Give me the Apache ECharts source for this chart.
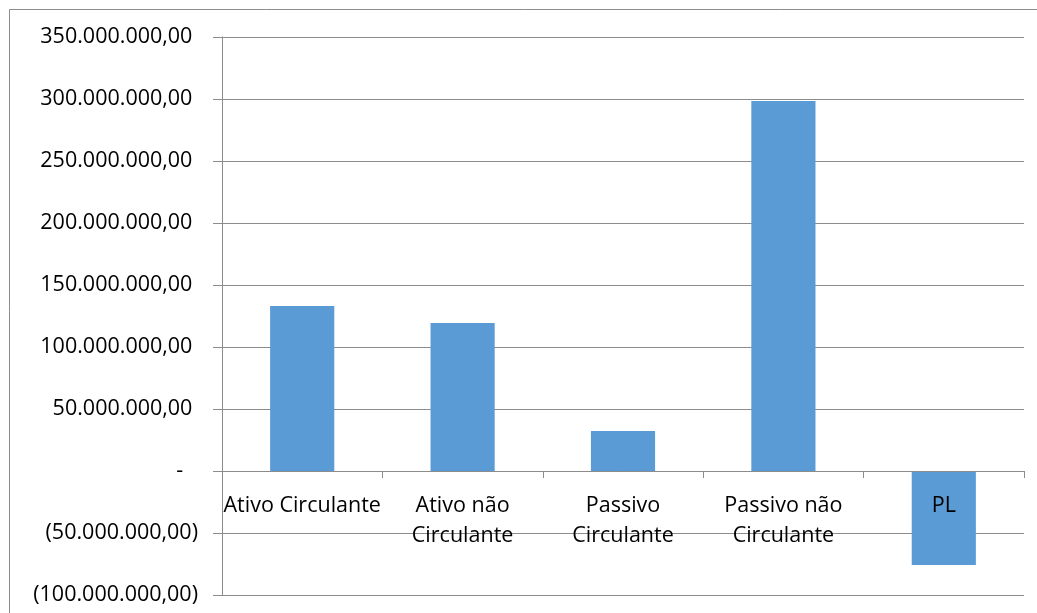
<!DOCTYPE html>
<html><head><meta charset="utf-8">
<script src="https://cdn.jsdelivr.net/npm/echarts@6/dist/echarts.min.js"></script>
<style>html,body{margin:0;padding:0;background:#fff}#c{width:1037px;height:613px}</style>
</head><body><div id="c"></div>
<script>
var categories = ['Ativo Circulante', 'Ativo não Circulante', 'Passivo Circulante', 'Passivo não Circulante', 'PL'];
var categoryLabels = ['Ativo Circulante', 'Ativo não\nCirculante', 'Passivo\nCirculante', 'Passivo não\nCirculante', 'PL'];
var values = [133000000, 119300000, 32300000, 298400000, -75800000];
var yMin = -100000000, yMax = 350000000, yStep = 50000000;

var gridTop = 37, gridBottom = 18, H = 613;
var plotH = H - gridTop - gridBottom;
var zeroOffset = -(0 - yMin) / (yMax - yMin) * plotH;

function fmt(v) {
  if (v === 0) return '-  \u2009';
  var a = Math.abs(v);
  var s = String(Math.round(a)).replace(/\B(?=(\d{3})+(?!\d))/g, '.') + ',00';
  return v < 0 ? '(' + s + ')' : s + ' ';
}
var chart = echarts.init(document.getElementById('c'));
chart.setOption({
  animation: false,
  backgroundColor: '#fff',
  graphic: [{ type: 'rect', shape: { x: 9.5, y: 9.5, width: 1100, height: 700 },
    style: { fill: 'none', stroke: '#8c8c8c', lineWidth: 1 }, z: 0, silent: true }],
  grid: { left: 222, right: 13, top: gridTop, bottom: gridBottom, containLabel: false, outerBoundsMode: 'none' },
  xAxis: {
    type: 'category', data: categories, z: 5, offset: zeroOffset,
    axisLine: { onZero: false, lineStyle: { color: '#8c8c8c', width: 1 } },
    axisTick: { show: true, length: 7, alignWithLabel: false, lineStyle: { color: '#8c8c8c' } },
    axisLabel: {
      interval: 0, margin: 20, color: '#000', fontFamily: 'Open Sans', fontSize: 21.5, lineHeight: 30,
      formatter: function (v, i) { return categoryLabels[i]; }
    }
  },
  yAxis: {
    type: 'value', min: yMin, max: yMax, interval: yStep,
    axisLine: { show: true, lineStyle: { color: '#8c8c8c', width: 1 } },
    axisTick: { show: true, length: 9, lineStyle: { color: '#8c8c8c' } },
    splitLine: { show: true, lineStyle: { color: '#8c8c8c', width: 1 } },
    axisLabel: { margin: 24, color: '#000', fontFamily: 'Open Sans', fontSize: 21.5, formatter: fmt }
  },
  series: [{ type: 'bar', data: values, barWidth: '40%', itemStyle: { color: '#5b9bd5' } }]
});
</script></body></html>
